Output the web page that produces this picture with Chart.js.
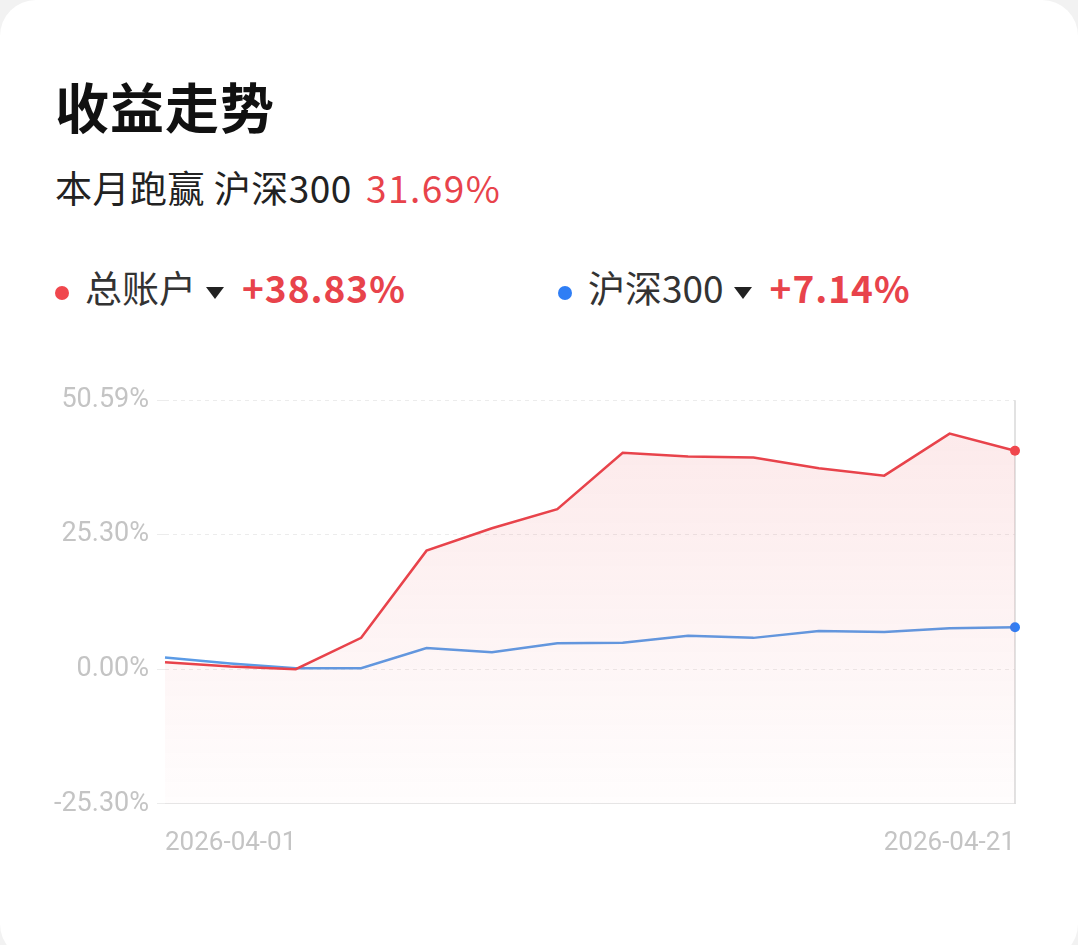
<!DOCTYPE html>
<html>
<head>
<meta charset="utf-8">
<script src="https://cdn.jsdelivr.net/npm/chart.js@4/dist/chart.umd.min.js"></script>
<style>
  body { margin: 0; background: #f2f2f2; font-family: "Noto Sans CJK SC", "Noto Sans", sans-serif; }
  .card { position: absolute; left: 0; top: 0; width: 1078px; height: 960px; background: #fff; border-radius: 36px; }
  .title { position: absolute; left: 55px; top: 66px; font-size: 54px; font-weight: bold; color: #111; letter-spacing: 1px; }
  .sub { position: absolute; left: 55px; top: 160px; font-size: 37px; color: #222; letter-spacing: 0.5px; }
  .red { color: #e8434b; }
  .sub .red { margin-left: 14px; letter-spacing: 1.5px; }
  .legend { position: absolute; top: 260px; font-size: 37px; color: #333; }
  .dot { display: inline-block; width: 14px; height: 14px; border-radius: 50%; margin-right: 16px; vertical-align: middle; }
  .tri { display: inline-block; width: 0; height: 0; border-left: 9px solid transparent; border-right: 9px solid transparent; border-top: 12px solid #222; margin: 0 18px 0 10px; vertical-align: middle; }
  .pct { font-weight: bold; letter-spacing: 1px; }
  #wrap { position: absolute; left: 40px; top: 376px; width: 1000px; height: 499px; }
</style>
</head>
<body>
<div class="card">
  <div class="title">收益走势</div>
  <div class="sub">本月跑赢 沪深300<span class="red">31.69%</span></div>
  <div class="legend" style="left:55px"><span class="dot" style="background:#f0474d"></span>总账户<span class="tri"></span><span class="red pct">+38.83%</span></div>
  <div class="legend" style="left:558px"><span class="dot" style="background:#2f7ef5"></span>沪深300<span class="tri"></span><span class="red pct">+7.14%</span></div>
  <div id="wrap"><canvas id="c"></canvas></div>
</div>
<script>
var dates = ["2026-04-01","2026-04-02","2026-04-03","2026-04-07","2026-04-08","2026-04-09","2026-04-10","2026-04-13","2026-04-14","2026-04-15","2026-04-16","2026-04-17","2026-04-20","2026-04-21"];
var account = [1.3, 0.5, 0.0, 5.9, 22.3, 26.5, 30.1, 40.7, 40.0, 39.8, 37.8, 36.4, 44.3, 41.1];
var hs300 = [2.2, 1.1, 0.2, 0.2, 4.0, 3.2, 4.9, 5.0, 6.3, 5.9, 7.2, 7.0, 7.7, 7.9];
var yTicks = [-25.30, 0.00, 25.30, 50.59];

var lastLine = {
  id: "lastLine",
  beforeDatasetsDraw: function (chart) {
    var ctx = chart.ctx, a = chart.chartArea;
    var x = chart.getDatasetMeta(0).data[dates.length - 1].x;
    ctx.save();
    ctx.strokeStyle = "#d8d8d8";
    ctx.lineWidth = 1.5;
    ctx.beginPath(); ctx.moveTo(x, a.top); ctx.lineTo(x, a.bottom); ctx.stroke();
    ctx.restore();
  }
};

var endDot = function (c) { return c.dataIndex === dates.length - 1 ? 5 : 0; };

document.addEventListener("DOMContentLoaded", function () {
  var ctx = document.getElementById("c").getContext("2d");
  new Chart(ctx, {
    type: "line",
    data: {
      labels: dates,
      datasets: [
        {
          label: "总账户",
          data: account,
          borderColor: "#e8434b",
          borderWidth: 2.5,
          tension: 0,
          fill: "start",
          backgroundColor: function (c) {
            var a = c.chart.chartArea;
            if (!a) return "rgba(232,67,75,0.08)";
            var g = c.chart.ctx.createLinearGradient(0, a.top, 0, a.bottom);
            g.addColorStop(0, "rgba(232,67,75,0.12)");
            g.addColorStop(1, "rgba(232,67,75,0.01)");
            return g;
          },
          pointRadius: endDot,
          pointBackgroundColor: "#f0474d",
          pointBorderWidth: 0,
        },
        {
          label: "沪深300",
          data: hs300,
          borderColor: "#5b9be6",
          borderWidth: 2.5,
          tension: 0,
          fill: false,
          pointRadius: endDot,
          pointBackgroundColor: "#2f7ef5",
          pointBorderWidth: 0,
        },
      ],
    },
    options: {
      responsive: true,
      maintainAspectRatio: false,
      animation: false,
      layout: { padding: { right: 25 } },
      plugins: { legend: { display: false }, tooltip: { enabled: false } },
      scales: {
        x: {
          offset: false,
          grid: { display: false },
          border: { color: "#e6e6e6" },
          ticks: {
            autoSkip: false,
            maxRotation: 0,
            align: "inner",
            padding: 16,
            color: "#c4c4c4",
            font: { size: 26, family: "Roboto" },
            callback: function (v, i) {
              return i === 0 || i === dates.length - 1 ? dates[i] : "";
            },
          },
        },
        y: {
          min: -25.30,
          max: 50.59,
          afterBuildTicks: function (s) { s.ticks = yTicks.map(function (v) { return { value: v }; }); },
          afterFit: function (s) { s.width = 125; },
          border: { display: false, dash: [4, 4] },
          grid: { color: "#ececec", lineWidth: 1 },
          ticks: {
            color: "#c4c4c4",
            font: { size: 27, family: "Roboto" },
            padding: 8,
            callback: function (v) { return v.toFixed(2) + "%"; },
          },
        },
      },
    },
    plugins: [lastLine],
  });
});
</script>
</body>
</html>
